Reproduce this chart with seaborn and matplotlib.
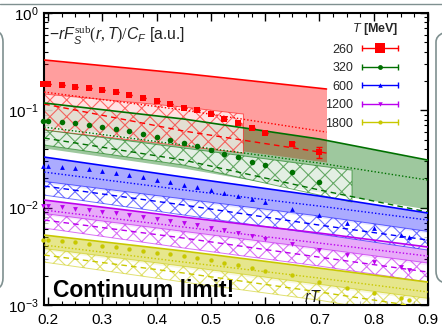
import matplotlib
matplotlib.use("Agg")
import matplotlib.pyplot as plt
import matplotlib.colors as mcolors
import seaborn as sns
import numpy as np
from matplotlib.lines import Line2D
from matplotlib.legend_handler import HandlerLine2D, HandlerTuple
from matplotlib.patches import FancyBboxPatch
from matplotlib.transforms import IdentityTransform
from matplotlib.ticker import MultipleLocator, LogLocator, FixedLocator, FuncFormatter, NullFormatter

sns.set_theme(style="ticks")
plt.rcParams['font.family'] = ['Liberation Sans', 'DejaVu Sans']
plt.rcParams['mathtext.fontset'] = 'custom'
plt.rcParams['mathtext.rm'] = 'Liberation Serif'
plt.rcParams['mathtext.it'] = 'Liberation Sans:italic'
plt.rcParams['mathtext.bf'] = 'Liberation Sans:bold'
plt.rcParams['mathtext.sf'] = 'Liberation Sans'
plt.rcParams['hatch.linewidth'] = 0.8

# ---------------- data ----------------
temperatures = ["260", "320", "600", "1200", "1800"]
series_colors = ["#ff0000", "#007000", "#0000ff", "#bb00ee", "#c8c800"]
fill_alpha = [0.38, 0.38, 0.33, 0.33, 0.45]
markers = ["s", "o", "^", "v", "o"]
marker_area = [24, 16, 12, 12, 10]
legend_ms = [6.5, 3.5, 3.2, 3.2, 3.0]

x_short = [0.19, 0.2, 0.225, 0.25, 0.275, 0.3, 0.325, 0.35, 0.375, 0.4,
           0.425, 0.45, 0.475, 0.5, 0.525, 0.55, 0.575, 0.6, 0.65, 0.7]
x_long = x_short + [0.75, 0.8, 0.85, 0.865]

y_260 = [0.188, 0.186, 0.182, 0.1735, 0.169, 0.162, 0.154, 0.1436, 0.1338, 0.1246,
         0.1161, 0.1057, 0.1007, 0.0916, 0.0814, 0.0741, 0.0658, 0.0585, 0.0451, 0.0373]
yerr_260 = [0, 0, 0, 0, 0, 0, 0, 0, 0, 0, 0, 0, 0, 0, 0, 0, 0, 0, 0.002, 0.005]
y_320 = [0.0776, 0.0776, 0.0756, 0.074, 0.0706, 0.0673, 0.0643, 0.0613, 0.0572, 0.0533,
         0.0495, 0.0462, 0.0430, 0.0391, 0.0356, 0.0332, 0.0295, 0.0275, 0.0232, 0.0183]
y_600 = [0.0268, 0.0268, 0.0261, 0.0255, 0.0249, 0.0238, 0.0227, 0.0216, 0.0206, 0.0192,
         0.0183, 0.0171, 0.0163, 0.0152, 0.0141, 0.0132, 0.0123, 0.0114, 0.0097, 0.0084,
         0.0070, 0.0062, 0.0052, 0.0050]
y_1200 = [0.01038, 0.01038, 0.01014, 0.00968, 0.00945, 0.0090, 0.0088, 0.0084, 0.0080, 0.00764,
          0.00728, 0.00695, 0.00662, 0.00617, 0.00589, 0.00548, 0.0051, 0.00476, 0.00423, 0.00367,
          0.00326, 0.00276, 0.00245, 0.00228]
y_1800 = [0.00465, 0.00465, 0.00454, 0.00443, 0.00423, 0.00403, 0.00394, 0.00375, 0.00358, 0.00341,
          0.00334, 0.00318, 0.00303, 0.00289, 0.0027, 0.00257, 0.00239, 0.00223, 0.00203, 0.00172,
          0.00149, 0.00133, 0.00118, 0.00112]

# bands (filled) and hatched bands
band_x_260 = [0.193, 0.45, 0.713]
top_260 = [0.329, 0.239, 0.1656]
bottom_260 = [0.0706, 0.0461, 0.0294]
dotted_260 = [0.154, 0.1007, 0.0598]
dashed_260 = [0.116, 0.0613, 0.0364]
hatch_x_260 = [0.193, 0.45, 0.56]
hatch_top_260 = [0.147, 0.108, 0.0916]
hatch_bottom_260 = [0.0627, 0.043, 0.0364]

band_x_320 = [0.193, 0.45, 0.7, 0.9]
top_320 = [0.1189, 0.0814, 0.0507, 0.0308]
bottom_320 = [0.041, 0.0255, 0.01446, 0.00968]
dotted_320 = [0.0673, 0.044, 0.0287, 0.0192]
dashed_320 = [0.0519, 0.0308, 0.0152, 0.0090]
hatch_x_320 = [0.193, 0.45, 0.7, 0.76]
hatch_top_320 = [0.0627, 0.041, 0.0268, 0.0243]
hatch_bottom_320 = [0.044, 0.0274, 0.01347, 0.01142]

band_x_600 = [0.193, 0.45, 0.7, 0.9]
top_600 = [0.0331, 0.0206, 0.01316, 0.0088]
bottom_600 = [0.0179, 0.0118, 0.0079, 0.0055]
dotted_600 = [0.0232, 0.0152, 0.01038, 0.00746]
dashed_600 = [0.01667, 0.01064, 0.00662, 0.00465]
hatch_x_600 = [0.193, 0.45, 0.7, 0.9]
hatch_top_600 = [0.0186, 0.0123, 0.0082, 0.0057]
hatch_bottom_600 = [0.01347, 0.0084, 0.00535, 0.00367]

band_x_1200 = [0.193, 0.45, 0.7, 0.9]
top_1200 = [0.01197, 0.0080, 0.00548, 0.00394]
bottom_1200 = [0.0084, 0.00548, 0.00367, 0.00257]
dotted_1200 = [0.00945, 0.00632, 0.00433, 0.00318]
dashed_1200 = [0.00746, 0.00487, 0.0031, 0.00218]
hatch_x_1200 = [0.193, 0.45, 0.7, 0.9]
hatch_top_1200 = [0.0087, 0.0057, 0.0038, 0.0027]
hatch_bottom_1200 = [0.00617, 0.00385, 0.00251, 0.00172]

band_x_1800 = [0.193, 0.45, 0.7, 0.9]
top_1800 = [0.00523, 0.00358, 0.00239, 0.00172]
bottom_1800 = [0.00367, 0.00239, 0.00156, 0.00112]
dotted_1800 = [0.00413, 0.00276, 0.00189, 0.00136]
dashed_1800 = [0.00326, 0.00213, 0.00136, 0.00093]
hatch_x_1800 = [0.193, 0.45, 0.7, 0.9]
hatch_top_1800 = [0.0038, 0.0025, 0.00163, 0.00117]
hatch_bottom_1800 = [0.00276, 0.00172, 0.00112, 0.00073]

points = [(x_short, y_260), (x_short, y_320), (x_long, y_600), (x_long, y_1200), (x_long, y_1800)]
bands = [
    (band_x_260, top_260, bottom_260, dotted_260, dashed_260, hatch_x_260, hatch_top_260, hatch_bottom_260),
    (band_x_320, top_320, bottom_320, dotted_320, dashed_320, hatch_x_320, hatch_top_320, hatch_bottom_320),
    (band_x_600, top_600, bottom_600, dotted_600, dashed_600, hatch_x_600, hatch_top_600, hatch_bottom_600),
    (band_x_1200, top_1200, bottom_1200, dotted_1200, dashed_1200, hatch_x_1200, hatch_top_1200, hatch_bottom_1200),
    (band_x_1800, top_1800, bottom_1800, dotted_1800, dashed_1800, hatch_x_1800, hatch_top_1800, hatch_bottom_1800),
]

# ---------------- figure ----------------
fig = plt.figure(figsize=(4.42, 3.30), dpi=100)
fig.patch.set_facecolor("white")
ax = fig.add_axes([44 / 442, 25 / 330, 384 / 442, 292 / 330])
ax.set_facecolor("white")
ax.set_yscale("log")
ax.set_xlim(0.1926, 0.9)
ax.set_ylim(1e-3, 1)

# filled bands
for (bx, bt, bb, bd, bdash, hx, ht, hb), c, a in zip(bands, series_colors, fill_alpha):
    rgb = mcolors.to_rgb(c)
    ax.fill_between(bx, bb, bt, color=rgb, alpha=a, linewidth=0, zorder=1)

# hatched bands on top
for (bx, bt, bb, bd, bdash, hx, ht, hb), c in zip(bands, series_colors):
    rgb = mcolors.to_rgb(c)
    ax.fill_between(hx, hb, ht, facecolor=(1, 1, 1, 0.72), edgecolor=(*rgb, 0.55),
                    hatch="xx", linewidth=0.7, zorder=2)

# lines
for (bx, bt, bb, bd, bdash, hx, ht, hb), c in zip(bands, series_colors):
    ax.plot(bx, bt, color=c, lw=1.2, zorder=3)
    ax.plot(bx, bd, color=c, lw=1.0, ls=(0, (1, 1.5)), zorder=3)
    ax.plot(bx, bdash, color=c, lw=1.0, ls=(0, (4, 3)), zorder=3)

# data points
for (px, py), c, m, s in zip(points, series_colors, markers, marker_area):
    sns.scatterplot(x=px, y=py, color=c, marker=m, s=s, linewidth=0, ax=ax,
                    legend=False, zorder=5, clip_on=False)
ax.errorbar(x_short, y_260, yerr=yerr_260, fmt="none", ecolor=series_colors[0],
            elinewidth=1, capsize=2, zorder=5)

# ---------------- axes styling ----------------
for sp in ax.spines.values():
    sp.set_linewidth(1.5)
    sp.set_color("black")
    sp.set_visible(True)
ax.xaxis.set_major_locator(MultipleLocator(0.1))
ax.xaxis.set_minor_locator(MultipleLocator(0.025))
ax.xaxis.set_major_formatter(FuncFormatter(lambda v, p: f"{v:.1f}"))
ax.yaxis.set_major_locator(FixedLocator([1e-3, 1e-2, 1e-1, 1.0]))
ax.yaxis.set_major_formatter(FuncFormatter(
    lambda v, p: r"$\mathregular{10^{%d}}$" % int(round(np.log10(v)))))
ax.yaxis.set_minor_locator(LogLocator(base=10, subs=np.arange(2, 10)))
ax.yaxis.set_minor_formatter(NullFormatter())
ax.tick_params(which="both", direction="in", top=True, right=True, colors="black")
ax.tick_params(which="major", length=6, width=1.0)
ax.tick_params(which="minor", length=3, width=0.8)
ax.tick_params(axis="x", labelsize=11, pad=6)
ax.tick_params(axis="y", labelsize=11, pad=4)

# texts
ax.text(0.012, 0.905, r"$\mathsf{-}rF_S^{\mathrm{sub}}\mathit{(r,T)/}C_F$ [a.u.]",
        transform=ax.transAxes, fontsize=11.3, color="#222222", va="baseline")
ax.text(0.023, 0.027, "Continuum limit!", transform=ax.transAxes,
        fontsize=16.5, fontweight="bold", color="black", va="baseline")
ax.text(0.672, 0.0, r"$rT$", transform=ax.get_xaxis_transform(),
        fontsize=11.5, va="bottom", color="#222222")

# legend
handles = []
hmap = {}
for c, m, ms in zip(series_colors, markers, legend_ms):
    caps = Line2D([], [], color=c, lw=1.0, marker="|", markersize=5, markeredgewidth=1.0)
    pt = Line2D([], [], color=c, ls="none", marker=m, markersize=ms, markeredgewidth=0)
    handles.append((caps, pt))
    hmap[caps] = HandlerLine2D(numpoints=2, marker_pad=0)
    hmap[pt] = HandlerLine2D(numpoints=1)
hmap[tuple] = HandlerTuple(ndivide=1, pad=0)
leg = ax.legend(handles, temperatures, handler_map=hmap, title=r"$T$ [MeV]",
                loc="upper right", bbox_to_anchor=(0.922, 0.972), frameon=False,
                markerfirst=False, fontsize=9,
                title_fontproperties={"size": 9, "weight": "bold"},
                handlelength=2.9, handletextpad=0.7, labelspacing=0.52,
                borderpad=0, borderaxespad=0, alignment="right")
leg.set_zorder(10)

# decorative slide frames
frame_col = "#7f9090"
fig.add_artist(Line2D([0, 1], [1 - 3.5 / 330, 1 - 3.5 / 330], transform=fig.transFigure,
                      color=frame_col, lw=1.0))
fig.add_artist(FancyBboxPatch((-30, 40), 33, 260, boxstyle="round,pad=0,rounding_size=12",
                              transform=IdentityTransform(), facecolor="none",
                              edgecolor=frame_col, lw=1.2))
fig.add_artist(FancyBboxPatch((436, 47), 40, 253, boxstyle="round,pad=0,rounding_size=12",
                              transform=IdentityTransform(), facecolor="none",
                              edgecolor=frame_col, lw=1.2))

fig.savefig("out.png", dpi=100)
